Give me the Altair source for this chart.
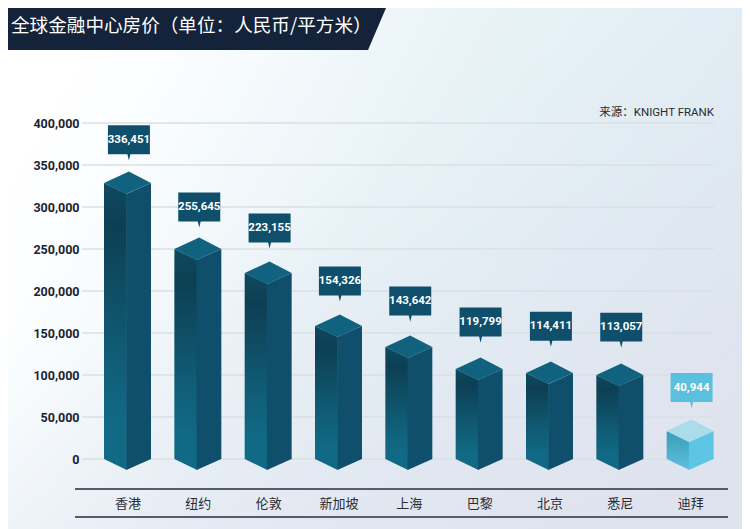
import altair as alt
import pandas as pd

cities = ["香港", "纽约", "伦敦", "新加坡", "上海", "巴黎", "北京", "悉尼", "迪拜"]
values = [336451, 255645, 223155, 154326, 143642, 119799, 114411, 113057, 40944]
# where the drawn columns actually end and the callouts sit
drawn_tops = [328600, 250000, 221400, 158300, 133300, 107100, 102400, 100000, 33300]
callout_pos = [380000, 300000, 275000, 212000, 188000, 163000, 158000, 157000, 85000]
y_ticks = [0, 50000, 100000, 150000, 200000, 250000, 300000, 350000, 400000]
title_text = "全球金融中心房价（单位：人民币/平方米）"
source_text = "来源：KNIGHT FRANK"

W, H = 632, 336
PAD = {"left": 74, "top": 115, "right": 28, "bottom": 70}
HALF, SKEW = 0.334, 0.018
DROP_FRONT, RISE_BACK = 13100, 13700
FONT = "Roboto, Noto Sans CJK SC"

xs = alt.Scale(domain=[-0.647, 8.339], nice=False, zero=False)
ys = alt.Scale(domain=[0, 400000], nice=False, zero=False)
x_axis = alt.Axis(
    values=list(range(9)), labelExpr="[" + ",".join(f"'{c}'" for c in cities) + "][datum.value]",
    domain=False, ticks=False, grid=False, labelPadding=38, labelFontSize=13, labelColor="#2b2b33",
    labelFont="Noto Sans CJK SC", labelFlush=False, labelOverlap=False, zindex=1, title=None)
y_axis = alt.Axis(
    values=y_ticks, format=",d", domain=False, ticks=False, grid=False, labelPadding=3,
    labelFontSize=12.5, labelFont=FONT, labelFontWeight="bold", labelColor="#1c2233", zindex=1, title=None)


def X(f):
    return alt.X(f, scale=xs, axis=x_axis)


def Y(f, **kw):
    return alt.Y(f, scale=ys, axis=y_axis, **kw)


def faces():
    left, right, top = [], [], []
    for i, t in enumerate(drawn_tops):
        light = i == 8
        L, F, B, R = i - HALF, i - SKEW, i + SKEW, i + HALF
        left += [dict(b=i, light=light, x=L, y=t, y2=0),
                 dict(b=i, light=light, x=F + 0.008, y=t - DROP_FRONT, y2=-DROP_FRONT)]
        right += [dict(b=i, light=light, x=F, y=t - DROP_FRONT, y2=-DROP_FRONT),
                  dict(b=i, light=light, x=R, y=t, y2=0)]
        up = lambda xx: t + RISE_BACK * (xx - L) / (B - L) if xx <= B else t + RISE_BACK * (R - xx) / (R - B)
        down = lambda xx: t - DROP_FRONT * (xx - L) / (F - L) if xx <= F else t - DROP_FRONT * (R - xx) / (R - F)
        top += [dict(b=i, light=light, x=xx, y=up(xx), y2=down(xx)) for xx in (L, F, B, R)]
    return pd.DataFrame(left), pd.DataFrame(right), pd.DataFrame(top)


left_df, right_df, top_df = faces()


def grad(stops):
    return alt.Gradient(gradient="linear", x1=0, y1=0, x2=0, y2=1,
                        stops=[alt.GradientStop(offset=o, color=c) for o, c in stops])


def area(df, light, fill):
    d = df[df.light == light]
    return alt.Chart(d).mark_area(orient="vertical", fill=fill, stroke=None, clip=False, opacity=1).encode(
        x=X("x:Q"), y=Y("y:Q", stack=None), y2="y2:Q", detail="b:N")


deco = alt.Data(values=[{"a": 1}])
bg = alt.Chart(deco).mark_rect(
    fill=alt.Gradient(gradient="linear", x1=0, y1=0.3, x2=1, y2=0.7, stops=[
        alt.GradientStop(offset=0, color="#ffffff"),
        alt.GradientStop(offset=0.1, color="#fcfeff"),
        alt.GradientStop(offset=0.45, color="#e9f3f7"),
        alt.GradientStop(offset=1, color="#dbecf3"),
    ])
).encode(x=alt.value(-PAD["left"]), x2=alt.value(W + PAD["right"]),
         y=alt.value(-PAD["top"]), y2=alt.value(H + PAD["bottom"]))
bg2 = alt.Chart(deco).mark_rect(
    fill=alt.Gradient(gradient="linear", x1=0.3, y1=0.45, x2=0.8, y2=1, stops=[
        alt.GradientStop(offset=0, color="rgba(224,226,238,0)"),
        alt.GradientStop(offset=1, color="rgba(224,226,238,0.9)"),
    ])
).encode(x=alt.value(-PAD["left"]), x2=alt.value(W + PAD["right"]),
         y=alt.value(-PAD["top"]), y2=alt.value(H + PAD["bottom"]))

banner = alt.Chart(deco).mark_point(
    shape="M0,0 H0.945 L0.9,0.105 H0 Z", size=640000, filled=True, fill="#14233a", stroke=None, opacity=1
).encode(x=alt.value(-PAD["left"]), y=alt.value(-PAD["top"]))
title = alt.Chart(alt.Data(values=[{"t": title_text}])).mark_text(
    font="Noto Sans CJK SC", fontSize=18.6, color="#ffffff", align="left", baseline="middle"
).encode(x=alt.value(-71), y=alt.value(-97), text="t:N")

grid = alt.Chart(pd.DataFrame({"v": y_ticks})).mark_rule(color="#d9e0e5", strokeWidth=1.6).encode(
    y=Y("v:Q"), x=alt.value(0), x2=alt.value(W))

rule_a = alt.Chart(deco).mark_rule(color="#565b6e", strokeWidth=2).encode(
    y=alt.value(366), x=alt.value(-7), x2=alt.value(646))
rule_b = alt.Chart(deco).mark_rule(color="#565b6e", strokeWidth=2).encode(
    y=alt.value(394), x=alt.value(-7), x2=alt.value(646))

source = alt.Chart(alt.Data(values=[{"t": source_text}])).mark_text(
    font=FONT, fontSize=11.5, color="#2a2a30", align="right", baseline="middle"
).encode(x=alt.value(W), y=alt.value(-10), text="t:N")

lab = pd.DataFrame({"i": [i + 0.02 for i in range(9)], "p": callout_pos,
                    "s": [f"{v:,}" for v in values], "light": [False] * 8 + [True]})
CALLOUT = "M-1,-0.69 H1 V0.69 H0.07 L0,0.98 L-0.07,0.69 H-1 Z"


def callouts(light, c):
    return alt.Chart(lab[lab.light == light]).mark_point(
        shape=CALLOUT, size=1764, filled=True, fill=c, stroke=None, opacity=1
    ).encode(x=X("i:Q"), y=Y("p:Q"))


texts = alt.Chart(lab).mark_text(
    font=FONT, fontSize=11.5, fontWeight="bold", color="#ffffff", baseline="middle", align="center"
).encode(x=X("i:Q"), y=Y("p:Q"), text="s:N")

dark_left = grad([(0, "#0f4a60"), (0.15, "#0d3f53"), (0.6, "#105c76"), (0.85, "#116a85"), (1, "#116a85")])
light_left = grad([(0, "#3a9dba"), (1, "#5cc0de")])

chart = alt.layer(
    bg, bg2, grid,
    area(left_df, False, dark_left), area(right_df, False, "#0f4f6b"), area(top_df, False, "#11627e"),
    area(left_df, True, light_left), area(right_df, True, "#5fc5e4"), area(top_df, True, "#aadcea"),
    callouts(False, "#0f4f6c"), callouts(True, "#5bbfde"), texts,
    rule_a, rule_b, source, banner, title,
).properties(
    width=W, height=H, padding=PAD, autosize=alt.AutoSizeParams(type="none"),
).configure_view(stroke=None)

chart.save("out.html", embed_options={"renderer": "svg", "actions": False})
